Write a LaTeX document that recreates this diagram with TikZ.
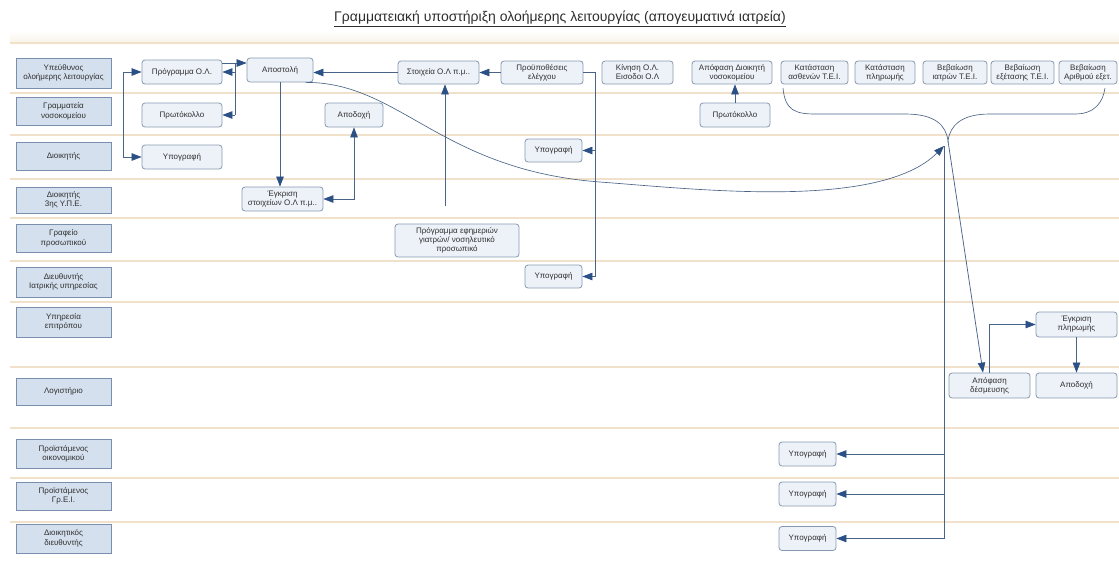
\documentclass[tikz,border=0pt]{standalone}
\usepackage{fontspec}
\setmainfont{Liberation Sans}
\usetikzlibrary{arrows.meta,calc}
\definecolor{lanefill}{HTML}{D5E0EE}
\definecolor{laneedge}{HTML}{7A8FAB}
\definecolor{procfill}{HTML}{EDF2F9}
\definecolor{procedge}{HTML}{8799B0}
\definecolor{flow}{HTML}{4A6488}
\definecolor{tipcol}{HTML}{2B5086}
\definecolor{sepcol}{HTML}{F1E1CA}
\definecolor{ink}{HTML}{2E2E2E}
\begin{document}
\begin{tikzpicture}[x=1pt,y=-1pt,
  >={Triangle[length=10pt,width=7.5pt,color=tipcol]},
  lanebox/.style={draw=laneedge, fill=lanefill, line width=0.8pt, align=center,
    font=\fontsize{8}{9.5}\selectfont, text=ink, inner sep=1pt, minimum width=95pt, minimum height=28pt},
  proc/.style={draw=procedge, fill=procfill, rounded corners=3pt, line width=0.8pt, align=center,
    font=\fontsize{8}{9}\selectfont, text=ink, inner sep=1pt, minimum height=24pt},
  flowline/.style={draw=flow, line width=0.75pt},
  arr/.style={flowline, ->},
  biarr/.style={flowline, <->},
  curve/.style={draw=flow, line width=0.65pt},
  sepline/.style={draw=sepcol, line width=1.4pt}]
\useasboundingbox (0,0) rectangle (1119,563);

% title
\node[text=ink, font=\fontsize{14}{16}\selectfont] (title) at (560,19)
  {\underline{Γραμματειακή υποστήριξη ολοήμερης λειτουργίας (απογευματινά ιατρεία)}};

% lane separators
\shade[top color=white, bottom color=sepcol!45] (10,31) rectangle (1119,43);
\foreach \yy in {43,93,135,179,218,261,302,367,428,478,522}
  \draw[sepline] (10,\yy) -- (1119,\yy);

% lane labels
\node[lanebox, minimum height=30pt] (l1) at (63.5,73) {Υπεύθυνος\\ολοήμερης λειτουργίας};
\node[lanebox] (l2) at (63.5,111) {Γραμματεία\\νοσοκομείου};
\node[lanebox] (l3) at (63.5,156) {Διοικητής};
\node[lanebox, minimum height=26pt] (l4) at (63.5,200) {Διοικητής\\3ης Υ.Π.Ε.};
\node[lanebox] (l5) at (63.5,238.5) {Γραφείο\\προσωπικού};
\node[lanebox, minimum height=30pt] (l6) at (63.5,282) {Διευθυντής\\Ιατρικής υπηρεσίας};
\node[lanebox, minimum height=30pt] (l7) at (63.5,322) {Υπηρεσία\\επιτρόπου};
\node[lanebox, minimum height=27pt] (l8) at (63.5,391.5) {Λογιστήριο};
\node[lanebox, minimum height=29pt] (l9) at (63.5,453.5) {Προϊστάμενος\\οικονομικού};
\node[lanebox] (l10) at (63.5,496) {Προϊστάμενος\\Γρ.Ε.Ι.};
\node[lanebox, minimum height=29pt] (l11) at (63.5,538.5) {Διοικητικός\\διευθυντής};

% process steps
\node[proc, minimum width=80pt] (prog) at (182,72) {Πρόγραμμα Ο.Λ.};
\node[proc, minimum width=66pt] (apost) at (280,70) {Αποστολή};
\node[proc, minimum width=80pt] (prot1) at (182,115) {Πρωτόκολλο};
\node[proc, minimum width=58pt] (apod1) at (354,115) {Αποδοχή};
\node[proc, minimum width=80pt] (ypog1) at (182,157) {Υπογραφή};
\node[proc, minimum width=81pt] (egk1) at (282.5,199) {Έγκριση\\στοιχείων Ο.Λ π.μ..};
\node[proc, minimum width=81pt, minimum height=23pt] (stoix) at (438.5,72.5) {Στοιχεία Ο.Λ π.μ..};
\node[proc, minimum width=82pt, minimum height=23pt] (proy) at (542,72.5) {Προϋποθέσεις\\ελέγχου};
\node[proc, minimum width=71pt, minimum height=23pt] (kin) at (637.5,72.5) {Κίνηση Ο.Λ.\\Εισοδοι Ο.Λ};
\node[proc, minimum width=80pt, minimum height=23pt] (apof) at (732,72.5) {Απόφαση Διοικητή\\νοσοκομείου};
\node[proc, minimum width=70pt] (prot2) at (735,115) {Πρωτόκολλο};
\node[proc, minimum width=67pt, minimum height=23pt] (kat1) at (814.5,72.5) {Κατάσταση\\ασθενών Τ.Ε.Ι.};
\node[proc, minimum width=60pt, minimum height=23pt] (kat2) at (885,72.5) {Κατάσταση\\πληρωμής};
\node[proc, minimum width=64pt, minimum height=23pt] (beb1) at (955,72.5) {Βεβαίωση\\ιατρών Τ.Ε.Ι.};
\node[proc, minimum width=63pt, minimum height=23pt] (beb2) at (1022.5,72.5) {Βεβαίωση\\εξέτασης Τ.Ε.Ι.};
\node[proc, minimum width=58pt, minimum height=23pt] (beb3) at (1088,72.5) {Βεβαίωση\\Αριθμού εξετ.};
\node[proc, minimum width=57pt, minimum height=23pt] (ypog2) at (553.5,150.5) {Υπογραφή};
\node[proc, minimum width=124pt, minimum height=33pt] (progef) at (457,240.5) {Πρόγραμμα εφημεριών\\γιατρών/ νοσηλευτικό\\προσωπικό};
\node[proc, minimum width=57pt, minimum height=23pt] (ypog3) at (553.5,276.5) {Υπογραφή};
\node[proc, minimum width=81pt, minimum height=25pt] (egk2) at (1076.5,324.5) {Έγκριση\\πληρωμής};
\node[proc, minimum width=81pt, minimum height=25pt] (apofd) at (989.5,385.5) {Απόφαση\\δέσμευσης};
\node[proc, minimum width=81pt, minimum height=25pt] (apod2) at (1076.5,385.5) {Αποδοχή};
\node[proc, minimum width=57pt] (ypog4) at (807.5,454) {Υπογραφή};
\node[proc, minimum width=57pt] (ypog5) at (807.5,494) {Υπογραφή};
\node[proc, minimum width=57pt] (ypog6) at (807.5,538.5) {Υπογραφή};

% junction points
\coordinate (jl) at (123,0);
\coordinate (jm) at (235,63);
\coordinate (jr) at (595,0);
\coordinate (fs) at (445,206);
\coordinate (tipc) at (944,146);
\coordinate (bt) at (948,141);
\coordinate (vx) at (944,0);

% connectors, left part
\draw[biarr] (prog.west) -- (prog.west -| jl) -- (ypog1.west -| jl) -- (ypog1.west);
\draw[arr] ([yshift=9pt]prog.east) -- ([yshift=9pt]prog.east -| apost.west);
\draw[flowline] (jm) -- (jm |- prot1.east);
\draw[arr] (jm |- prog.east) -- (prog.east);
\draw[arr] (jm |- prot1.east) -- (prot1.east);
\draw[arr] (apost.south) -- (apost.south |- egk1.north);
\draw[biarr] (egk1.east) -| (apod1.south);
\draw[arr] (stoix.west) -- (stoix.west -| apost.east);
\draw[arr] (proy.west) -- (stoix.east);
\draw[flowline] (proy.east) -- (proy.east -| jr) -- (ypog3.east -| jr);
\draw[arr] (ypog2.east -| jr) -- (ypog2.east);
\draw[arr] (ypog3.east -| jr) -- (ypog3.east);
\draw[arr] (fs) -- (fs |- stoix.south);
\draw[arr] (prot2.north) -- (prot2.north |- apof.south);

% long curve from Αποστολή
\draw[curve, ->] ([xshift=-8pt]apost.south east) .. controls (400,82) and (440,170) .. (600,182)
  .. controls (700,189.5) and (880,210) .. (tipc);

% brace under the certificates
\draw[curve] (783,88) .. controls (785,110) and (795,114) .. (815,114) -- (905,114)
  .. controls (935,114) and (946,125) .. (bt)
  .. controls (950,125) and (962,114) .. (990,114) -- (1075,114)
  .. controls (1095,114) and (1103,102) .. (1105,88);

% right part
\draw[flowline] (tipc) -- (vx |- ypog6.east);
\draw[arr] (vx |- ypog4.east) -- (ypog4.east);
\draw[arr] (vx |- ypog5.east) -- (ypog5.east);
\draw[arr] (vx |- ypog6.east) -- (ypog6.east);
\draw[arr] (bt) -- ([xshift=-6.5pt]apofd.north);
\draw[arr] (apofd.north) |- (egk2.west);
\draw[arr] (egk2.south) -- (apod2.north);
\end{tikzpicture}
\end{document}
